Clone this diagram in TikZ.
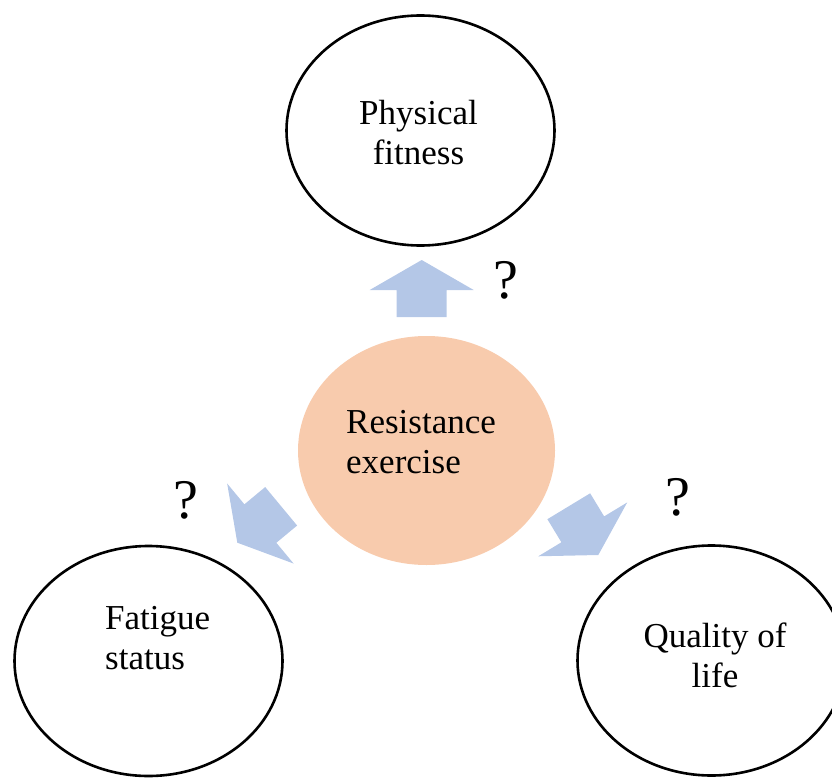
\documentclass[tikz,border=0pt]{standalone}
\usepackage{fontspec}
\setmainfont{Liberation Serif}
\usepackage{xcolor}
\usetikzlibrary{shapes.geometric,calc}

\definecolor{peach}{HTML}{F8CBAD}
\definecolor{paleblue}{HTML}{B4C7E7}

\tikzset{
  bubble/.style={ellipse, draw=black, line width=2.6pt, fill=white, inner sep=0pt},
  bubbletext/.style={inner sep=0pt, font=\fontsize{35}{40}\selectfont},
  query/.style={inner sep=0pt, font=\fontsize{56}{60}\selectfont},
  blockarrow/.pic={
    \fill[paleblue] (0,0) -- (-30,52) -- (-30,25) -- (-57,25) -- (-57,-25) -- (-30,-25) -- (-30,-52) -- cycle;
  }
}

\begin{document}
\begin{tikzpicture}[x=1pt, y=-1pt]
        \useasboundingbox (0,0) rectangle (832,778);
        % Outcomes
        \node[bubble, minimum width=268, minimum height=230] (fitness) at (420.5,130.5) {};
        \node[bubble, minimum width=268, minimum height=230] (fatigue) at (148.5,661) {};
        \node[bubble, minimum width=268, minimum height=230] (quality) at (711.5,660.5) {};
        % Centre
        \node[ellipse, fill=peach, inner sep=0pt, minimum width=257, minimum height=229] (exercise) at (426.5,450.5) {};
        % Arrows
        \pic[rotate=90] at (421.7,260) {blockarrow};
        \pic[rotate=219.7] at (237.3,542.7) {blockarrow};
        \pic[rotate=-58.8] at (598.3,555) {blockarrow};
        % Text
        \node[bubbletext, align=center] (fitnessText) at (418.5,133) {Physical\\fitness};
        \node[bubbletext, align=left, anchor=west] (exerciseText) at (346,442) {Resistance\\exercise};
        \node[bubbletext, align=left, anchor=west] (fatigueText) at (105,638) {Fatigue\\status};
        \node[bubbletext, align=center] (qualityText) at (715,655) {Quality of\\life};
        % Question marks
        \node[query] (qFitness) at (505.8,280) {?};
        \node[query] (qFatigue) at (185.8,500.8) {?};
        \node[query] (qQuality) at (677.5,497.5) {?};
      \end{tikzpicture}
\end{document}
